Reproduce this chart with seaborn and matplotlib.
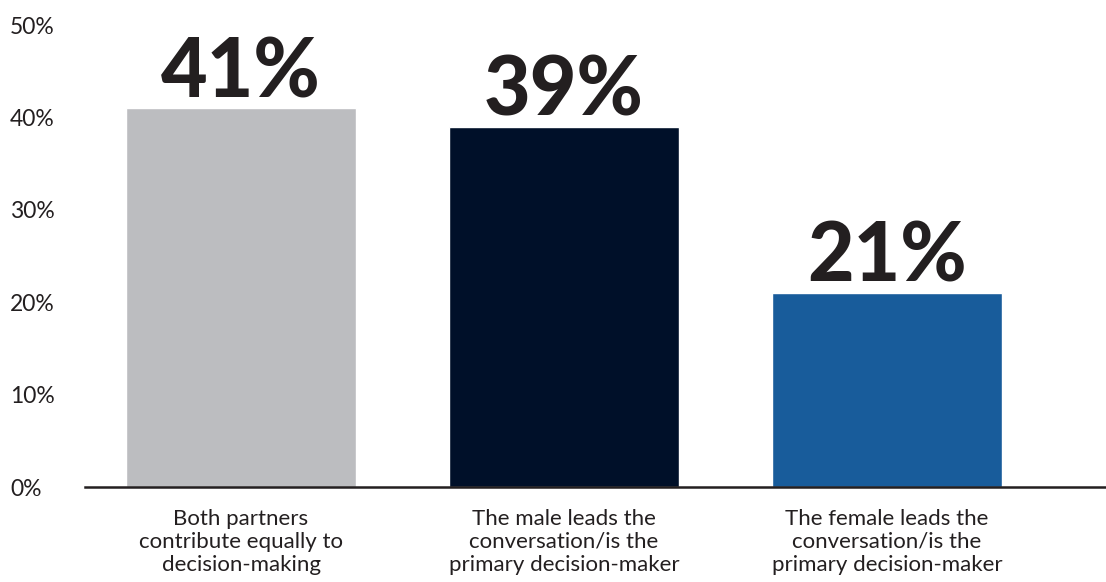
import matplotlib
matplotlib.use("Agg")
import matplotlib.pyplot as plt
import seaborn as sns
import pandas as pd

categories = [
    "Both partners\ncontribute equally to\ndecision-making",
    "The male leads the\nconversation/is the\nprimary decision-maker",
    "The female leads the\nconversation/is the\nprimary decision-maker",
]
values = [41, 39, 21]
bar_colors = ["#BCBDC0", "#001029", "#185C9B"]
tick_values = [0, 10, 20, 30, 40, 50]
tick_labels = ["0%", "10%", "20%", "30%", "40%", "50%"]

sns.set_theme(style="white")
plt.rcParams["font.family"] = ["Lato", "DejaVu Sans"]

df = pd.DataFrame({"category": categories, "value": values})

fig = plt.figure(figsize=(11.06, 5.82), dpi=100)
ax = fig.add_axes([0.0769, 0.1632, 0.9231, 0.7938])

sns.barplot(data=df, x="category", y="value", hue="category",
            palette=bar_colors, width=0.712, saturation=1,
            legend=False, ax=ax)

ax.set_ylim(0, 50)
ax.set_xlim(-0.483, 2.678)
ax.set_xlabel("")
ax.set_ylabel("")

ax.set_yticks(tick_values)
ax.set_yticklabels(tick_labels, fontsize=16.5, color="#231F20", ha="left",
                   fontweight="normal")
ax.tick_params(axis="y", length=0, pad=54)
ax.tick_params(axis="x", length=0, pad=16)
for lbl in ax.get_xticklabels():
    lbl.set_fontsize(16)
    lbl.set_color("#231F20")
    lbl.set_linespacing(1.17)

for side in ["top", "right", "left"]:
    ax.spines[side].set_visible(False)
ax.spines["bottom"].set_color("#231F20")
ax.spines["bottom"].set_linewidth(1.8)

for i, v in enumerate(values):
    ax.annotate(f"{v}%", (i, v), xytext=(0, 8), textcoords="offset points",
                ha="center", va="baseline", fontsize=58, fontweight="black",
                color="#231F20")

fig.savefig("out.png", dpi=100)
